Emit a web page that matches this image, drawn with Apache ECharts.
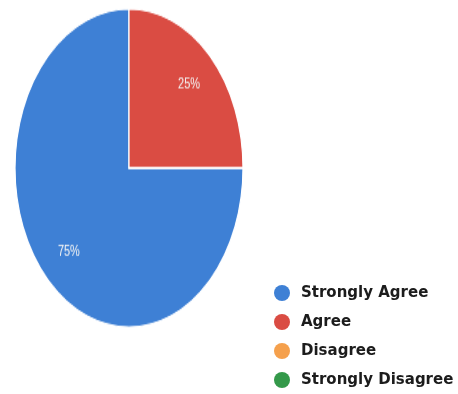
<!DOCTYPE html>
<html><head><meta charset="utf-8">
<script src="https://cdn.jsdelivr.net/npm/echarts@6/dist/echarts.min.js"></script>
<style>
html,body{margin:0;padding:0;background:#fff;width:458px;height:394px;overflow:hidden;}
#pie{position:absolute;left:14px;top:53px;width:230px;height:230px;transform-origin:50% 50%;transform:scaleY(1.395);}
#leg{position:absolute;left:0;top:0;width:458px;height:394px;}
</style></head>
<body>
<div id="pie"></div>
<div id="leg"></div>
<script>
const categories = ['Strongly Agree', 'Agree', 'Disagree', 'Strongly Disagree'];
const values = [75, 25, 0, 0];
const colors = ['#3e80d5', '#da4c43', '#f5a04c', '#34994a'];

const data = categories.map((c, i) => ({ name: c, value: values[i], itemStyle: { color: colors[i] } }));

const pie = echarts.init(document.getElementById('pie'), null, { renderer: 'canvas' });
pie.setOption({
  animation: false,
  series: [
    {
      type: 'pie', radius: 114, center: ['50%', '50%'], startAngle: 0, clockwise: true,
      data: data, label: { show: false }, labelLine: { show: false },
      itemStyle: { borderColor: '#ffffff', borderWidth: 1.2 },
      emphasis: { disabled: true }
    },
    {
      type: 'pie', radius: [50, 114], center: ['50%', '50%'], startAngle: 0, clockwise: true, silent: true,
      data: data.map(d => ({ name: d.name, value: d.value, itemStyle: { color: 'rgba(0,0,0,0)' } })),
      itemStyle: { borderWidth: 0 },
      label: {
        show: true, position: 'inside', color: '#f4f4f4', fontSize: 11,
        fontFamily: 'Liberation Sans, Arial, sans-serif',
        formatter: p => p.value > 0 ? Math.round(p.percent) + '%' : ''
      },
      labelLine: { show: false }, emphasis: { disabled: true }
    }
  ]
});

const leg = echarts.init(document.getElementById('leg'), null, { renderer: 'canvas' });
leg.setOption({
  animation: false,
  legend: {
    orient: 'vertical', left: 274, top: 285, bottom: 0, padding: 0, icon: 'circle',
    itemWidth: 16, itemHeight: 16, itemGap: 13,
    data: categories,
    selectedMode: false,
    textStyle: { fontFamily: 'DejaVu Sans', fontWeight: 'bold', fontSize: 15, color: '#1c1c1c', lineHeight: 16, padding: [0, 0, 0, 6] }
  },
  series: [{
    type: 'pie', radius: [0, 0], center: [-100, -100], data: data,
    label: { show: false }, labelLine: { show: false }, silent: true
  }]
});
</script>
</body></html>
